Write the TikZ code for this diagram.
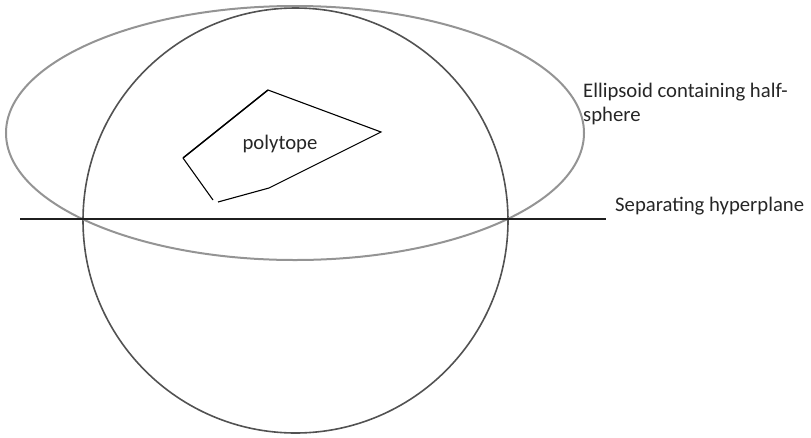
\documentclass[tikz,border=0pt]{standalone}
\usepackage{fontspec}
\setmainfont{Carlito}
\begin{document}
\begin{tikzpicture}[x=1pt,y=-1pt,
  lbl/.style={font=\fontsize{20.7}{24}\selectfont, text=black!85, inner sep=0pt, anchor=base west},
  ellipsoidline/.style={draw=black!42, line width=2pt},
  sphereline/.style={draw=black!68, line width=1.6pt},
  planeline/.style={draw=black!88, line width=2.4pt},
  polyline/.style={draw=black, line width=1.1pt, line join=miter}]
\useasboundingbox (0,0) rectangle (811,437);
% sphere and ellipsoid
\draw[sphereline] (295.5,220.5) circle [radius=212.5];
\draw[ellipsoidline] (295,133) ellipse [x radius=289, y radius=127];
% hyperplane
\coordinate (hl) at (20,219);
\coordinate (hr) at (606,219);
\draw[planeline] (hl) -- (hr);
% polytope
\coordinate (p1) at (268,90);
\coordinate (p2) at (381,132);
\coordinate (p3) at (269,188);
\coordinate (p4) at (218,202);
\coordinate (p5) at (183,158);
\coordinate (p6) at (213,200);
\draw[polyline] (p4) -- (p3) -- (p2) -- (p1);
\draw[polyline, line width=1.5pt] (p1) -- (p5);
\draw[polyline] (p5) -- (p6);
\node[lbl, anchor=base] (poly) at (280,149) {polytope};
\node[lbl] (ell) at (583,97) {Ellipsoid containing half-};
\node[lbl] (sph) at (583,121) {sphere};
\node[lbl] (sep) at (615,211) {Separating hyperplane};
\end{tikzpicture}
\end{document}
